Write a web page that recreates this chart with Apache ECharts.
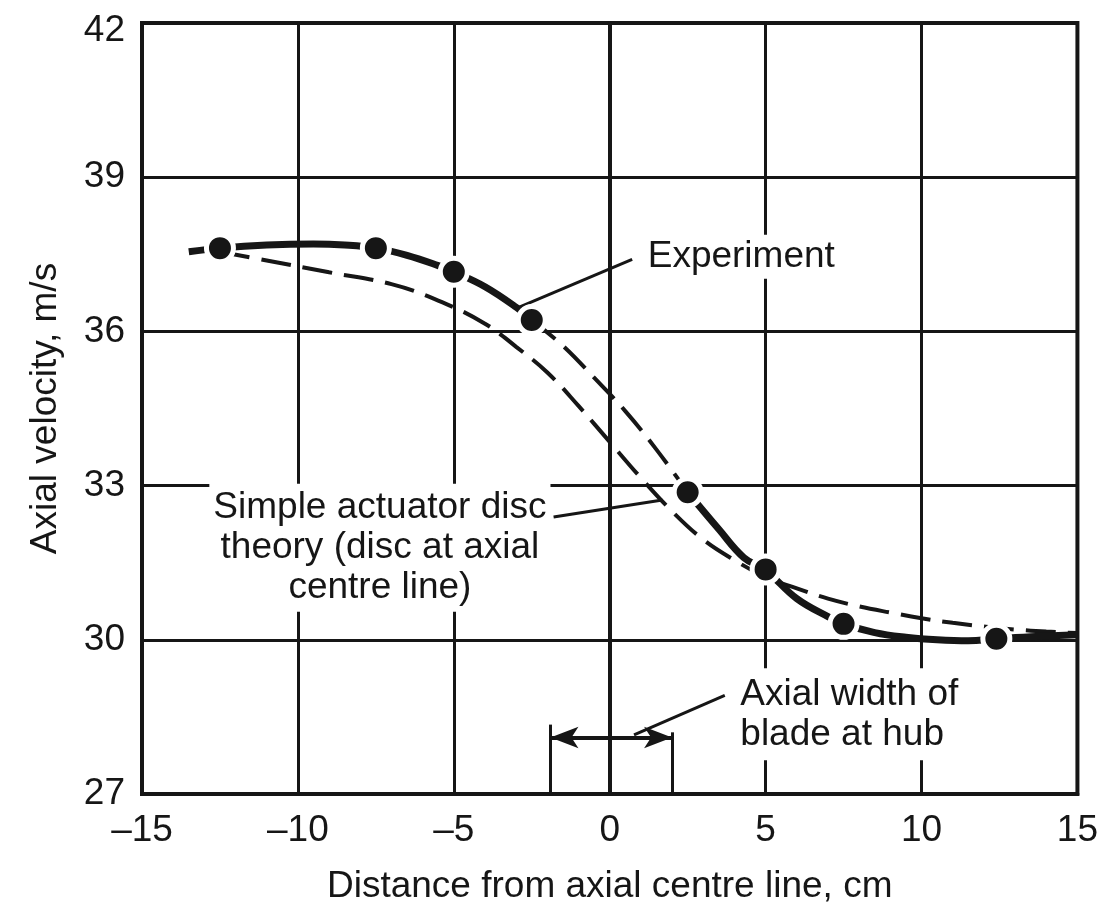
<!DOCTYPE html>
<html>
<head>
<meta charset="utf-8">
<script src="https://cdn.jsdelivr.net/npm/echarts@6/dist/echarts.min.js"></script>
<style>
  html, body { margin: 0; background: #fff; }
  #chart { width: 1101px; height: 910px; }
</style>
</head>
<body>
<div id="chart"></div>
<script>
// measured points (filled circles)
const markerX = [-12.5, -7.5, -5, -2.5, 2.5, 5, 7.5, 12.4]
const markerY = [37.62, 37.62, 37.16, 36.22, 32.87, 31.37, 30.31, 30.02]

// experiment curve, drawn in three pieces (thick / thin dashed / thick)
const expLeftX = [-13.5, -12.5, -11, -9.5, -8.5, -7.5, -6.5, -5.5, -5, -4, -3, -2.5]
const expLeftY = [37.55, 37.62, 37.68, 37.7, 37.68, 37.62, 37.48, 37.28, 37.16, 36.87, 36.47, 36.22]
const expMidX = [-2.5, -1.5, -0.5, 0.5, 1.5, 2.5]
const expMidY = [36.22, 35.72, 35.1, 34.45, 33.7, 32.87]
const expRightX = [2.5, 3.5, 4.3, 5, 6, 7, 7.5, 8.5, 9.5, 10.5, 11.5, 12.4, 13.5, 15]
const expRightY = [32.87, 32.15, 31.6, 31.35, 30.8, 30.45, 30.31, 30.14, 30.05, 30.0, 29.98, 30.02, 30.06, 30.1]

// simple actuator disc theory
const theoryX = [-12.5, -11, -9, -7, -5.5, -4, -3, -2, -1, 0, 1, 2, 3, 4, 5, 6, 7, 8, 9, 10, 11, 12, 13, 14, 15]
const theoryY = [37.55, 37.38, 37.15, 36.92, 36.6, 36.15, 35.7, 35.2, 34.55, 33.85, 33.15, 32.5, 31.95, 31.55, 31.22, 31.0, 30.8, 30.65, 30.53, 30.42, 30.33, 30.26, 30.2, 30.16, 30.13]

// blade width at hub (cm) and its bracket
const bladeEdges = [-1.9, 2.0]
const bladeArrowY = 28.1

const INK = '#161616'
const FAMILY = '"Liberation Sans", Arial, sans-serif'
const FS = 37

const pairs = (xs, ys) => xs.map((x, i) => [x, ys[i]])

const chart = echarts.init(document.getElementById('chart'))

const thick = { color: INK, width: 7, type: 'solid', cap: 'butt' }
const thinDash = { color: INK, width: 4, type: [30, 12] }
const curve = { type: 'line', showSymbol: false, smooth: 0.4 }

chart.setOption({
  animation: false,
  backgroundColor: '#fff',
  grid: { left: 142, right: 13, top: 23, bottom: 108, show: true, borderColor: INK, borderWidth: 4 },
  xAxis: {
    type: 'value', min: -15, max: 15, interval: 5,
    axisLine: { show: true, lineStyle: { color: INK, width: 4 } },
    axisTick: { show: false },
    splitLine: { show: true, lineStyle: { color: INK, width: 3 } },
    axisLabel: {
      fontSize: FS, color: INK, fontFamily: FAMILY, margin: 18,
      formatter: v => v < 0 ? '\u2013' + Math.abs(v) : String(v),
    },
    name: 'Distance from axial centre line, cm',
    nameLocation: 'middle', nameGap: 74,
    nameTextStyle: { fontSize: FS, color: INK, fontFamily: FAMILY },
  },
  yAxis: {
    type: 'value', min: 27, max: 42, interval: 3,
    axisLine: { show: true, lineStyle: { color: INK, width: 4 } },
    axisTick: { show: false },
    splitLine: { show: true, lineStyle: { color: INK, width: 3 } },
    axisLabel: {
      fontSize: FS, color: INK, fontFamily: FAMILY, margin: 17,
      formatter: v => v === 42 ? '{t|42}' : String(v),
      rich: { t: { fontSize: FS, color: INK, fontFamily: FAMILY, padding: [16, 0, 0, 0] } },
    },
    name: 'Axial velocity, m/s',
    nameLocation: 'middle', nameGap: 78,
    nameTextStyle: { fontSize: FS, color: INK, fontFamily: FAMILY },
  },
  series: [
    { ...curve, name: 'theory', data: pairs(theoryX, theoryY), z: 2, lineStyle: thinDash },
    { ...curve, name: 'exp-left', data: pairs(expLeftX, expLeftY), z: 3, lineStyle: thick },
    { ...curve, name: 'exp-mid', data: pairs(expMidX, expMidY), z: 3, lineStyle: thinDash },
    { ...curve, name: 'exp-right', data: pairs(expRightX, expRightY), z: 3, lineStyle: thick },
    {
      name: 'Experiment', type: 'scatter', data: pairs(markerX, markerY),
      symbolSize: 27, z: 5,
      itemStyle: { color: INK, borderColor: '#fff', borderWidth: 5, opacity: 1 },
    },
    {
      name: 'notes', type: 'line', data: [], z: 6,
      markLine: {
        silent: true, animation: false, symbol: 'none',
        label: { show: false },
        lineStyle: { color: INK, width: 3, type: 'solid' },
        data: [
          [{ coord: [-2.9, 36.47] }, { coord: [0.72, 37.4] }],
          [{ coord: [-1.8, 32.39] }, { coord: [1.69, 32.72] }],
          [{ coord: [3.69, 28.92] }, { coord: [0.78, 28.15] }],
          [{ coord: [bladeEdges[0], 28.35] }, { coord: [bladeEdges[0], 27] }],
          [{ coord: [bladeEdges[1], 28.2] }, { coord: [bladeEdges[1], 27] }],
          [
            { coord: [bladeEdges[0], bladeArrowY], symbol: 'arrow', symbolSize: [16, 28] },
            { coord: [bladeEdges[1], bladeArrowY], symbol: 'arrow', symbolSize: [16, 28], lineStyle: { width: 4 } },
          ],
        ],
      },
    },
  ],
})

const px = c => chart.convertToPixel({ gridIndex: 0 }, c)

function note(text, at, align, padding) {
  const p = px(at)
  return {
    type: 'text', x: p[0], y: p[1], z: 4,
    style: {
      text, fill: INK, font: `${FS}px ${FAMILY}`,
      align, textAlign: align, verticalAlign: 'middle', textVerticalAlign: 'middle',
      lineHeight: 40, backgroundColor: '#fff', padding,
    },
  }
}

chart.setOption({
  graphic: [
    note('Experiment', [1.09, 37.45], 'left', [2, 4]),
    note('Simple actuator disc\ntheory (disc at axial\ncentre line)', [-7.37, 31.79], 'center', [4, 4]),
    note('Axial width of\nblade at hub', [4.06, 28.55], 'left', [6, 4]),
  ],
})
</script>
</body>
</html>
